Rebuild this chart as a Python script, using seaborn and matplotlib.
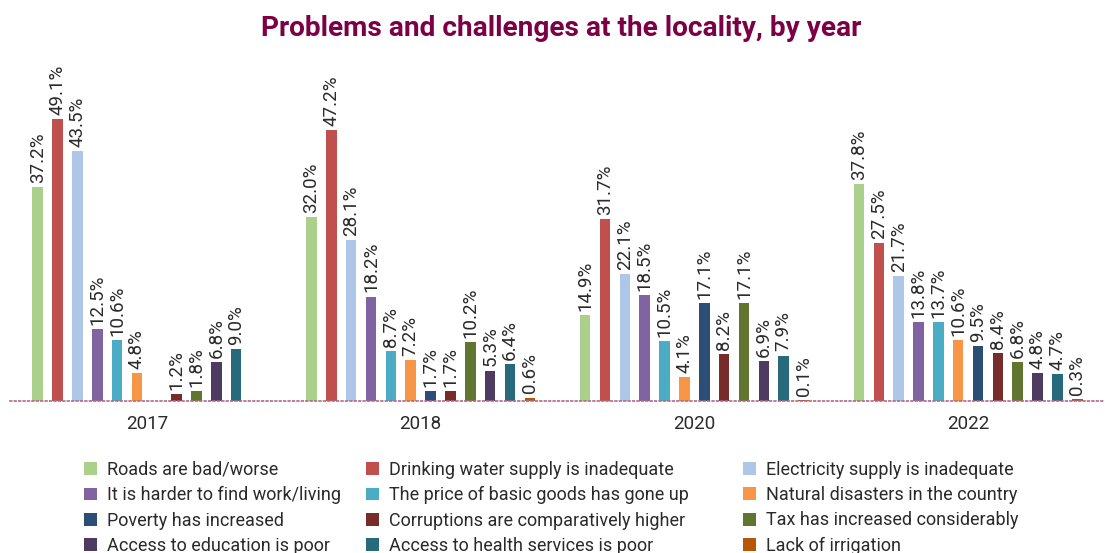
import numpy as np
import pandas as pd
import seaborn as sns
import matplotlib.pyplot as plt

years = ['2017', '2018', '2020', '2022']
problems = [
    'Roads are bad/worse',
    'Drinking water supply is inadequate',
    'Electricity supply is inadequate',
    'It is harder to find work/living',
    'The price of basic goods has gone up',
    'Natural disasters in the country',
    'Poverty has increased',
    'Corruptions are comparatively higher',
    'Tax has increased considerably',
    'Access to education is poor',
    'Access to health services is poor',
    'Lack of irrigation',
]
values_2017 = [37.2, 49.1, 43.5, 12.5, 10.6, 4.8, None, 1.2, 1.8, 6.8, 9.0, None]
values_2018 = [32.0, 47.2, 28.1, 18.2, 8.7, 7.2, 1.7, 1.7, 10.2, 5.3, 6.4, 0.6]
values_2020 = [14.9, 31.7, 22.1, 18.5, 10.5, 4.1, 17.1, 8.2, 17.1, 6.9, 7.9, 0.1]
values_2022 = [37.8, 27.5, 21.7, 13.8, 13.7, 10.6, 9.5, 8.4, 6.8, 4.8, 4.7, 0.3]
colors = ['#abd08c', '#c0504d', '#aec6e8', '#8064a2', '#4bacc6', '#f79646',
          '#2c4d75', '#772c2a', '#5f7530', '#4d3b62', '#276a7c', '#b65708']

rows = []
for year, vals in zip(years, [values_2017, values_2018, values_2020, values_2022]):
    for prob, v in zip(problems, vals):
        if v is not None:
            rows.append({'year': year, 'problem': prob, 'share': v})
df = pd.DataFrame(rows)

sns.set_style('white')
plt.rcParams['font.family'] = ['Roboto', 'DejaVu Sans']

fig = plt.figure(figsize=(11.05, 5.53), dpi=100)
ax = fig.add_axes([10 / 1105, 1 - 401 / 553, 1 - 10 / 1105, 316 / 553])

sns.barplot(data=df, x='year', y='share', hue='problem', order=years, hue_order=problems,
            palette=colors, saturation=1, width=0.87, gap=0.47, linewidth=0, ax=ax)

for container in ax.containers:
    ax.bar_label(container, fmt='{:.1f}%', rotation=90, padding=3, fontsize=13.5,
                 color='#2a2a2a')

ax.set_xlim(-0.5, -0.5 + 1095 / 276)
ax.set_ylim(0, 316 / 5.74)
ax.set_xlabel('')
ax.set_ylabel('')
ax.set_yticks([])
for side in ['top', 'right', 'left']:
    ax.spines[side].set_visible(False)
ax.spines['bottom'].set_linestyle(':')
ax.spines['bottom'].set_color('#b06a88')
ax.spines['bottom'].set_linewidth(1.2)

ax.set_xticks(np.arange(len(years)))
ax.set_xticklabels(years)
ax.set_xticks(np.arange(len(years) + 1) - 0.5, minor=True)
ax.tick_params(axis='x', which='major', length=0, pad=10, labelsize=13.5, labelcolor='#2a2a2a')
ax.tick_params(axis='x', which='minor', length=14, width=1, color='#e2b8c8', direction='out')

handles, labels = ax.get_legend_handles_labels()
ax.legend_.remove()
col_x = [84, 366, 743]
for c, x0 in enumerate(col_x):
    idx = [c, c + 3, c + 6, c + 9]
    fig.legend([handles[i] for i in idx], [labels[i] for i in idx],
               loc='upper left', bbox_to_anchor=(x0 / 1105, 1 - 461 / 553),
               ncol=1, frameon=False, borderpad=0, borderaxespad=0,
               handlelength=0.72, handleheight=0.72, handletextpad=0.55,
               labelspacing=0.4, labelcolor='#2a2a2a', prop={'size': 13})

fig.text(561 / 1105, 1 - 28 / 553, 'Problems and challenges at the locality, by year',
         ha='center', va='center', fontsize=20.2, fontweight='bold', color='#7b0046')

fig.savefig('out.png', dpi=100)
